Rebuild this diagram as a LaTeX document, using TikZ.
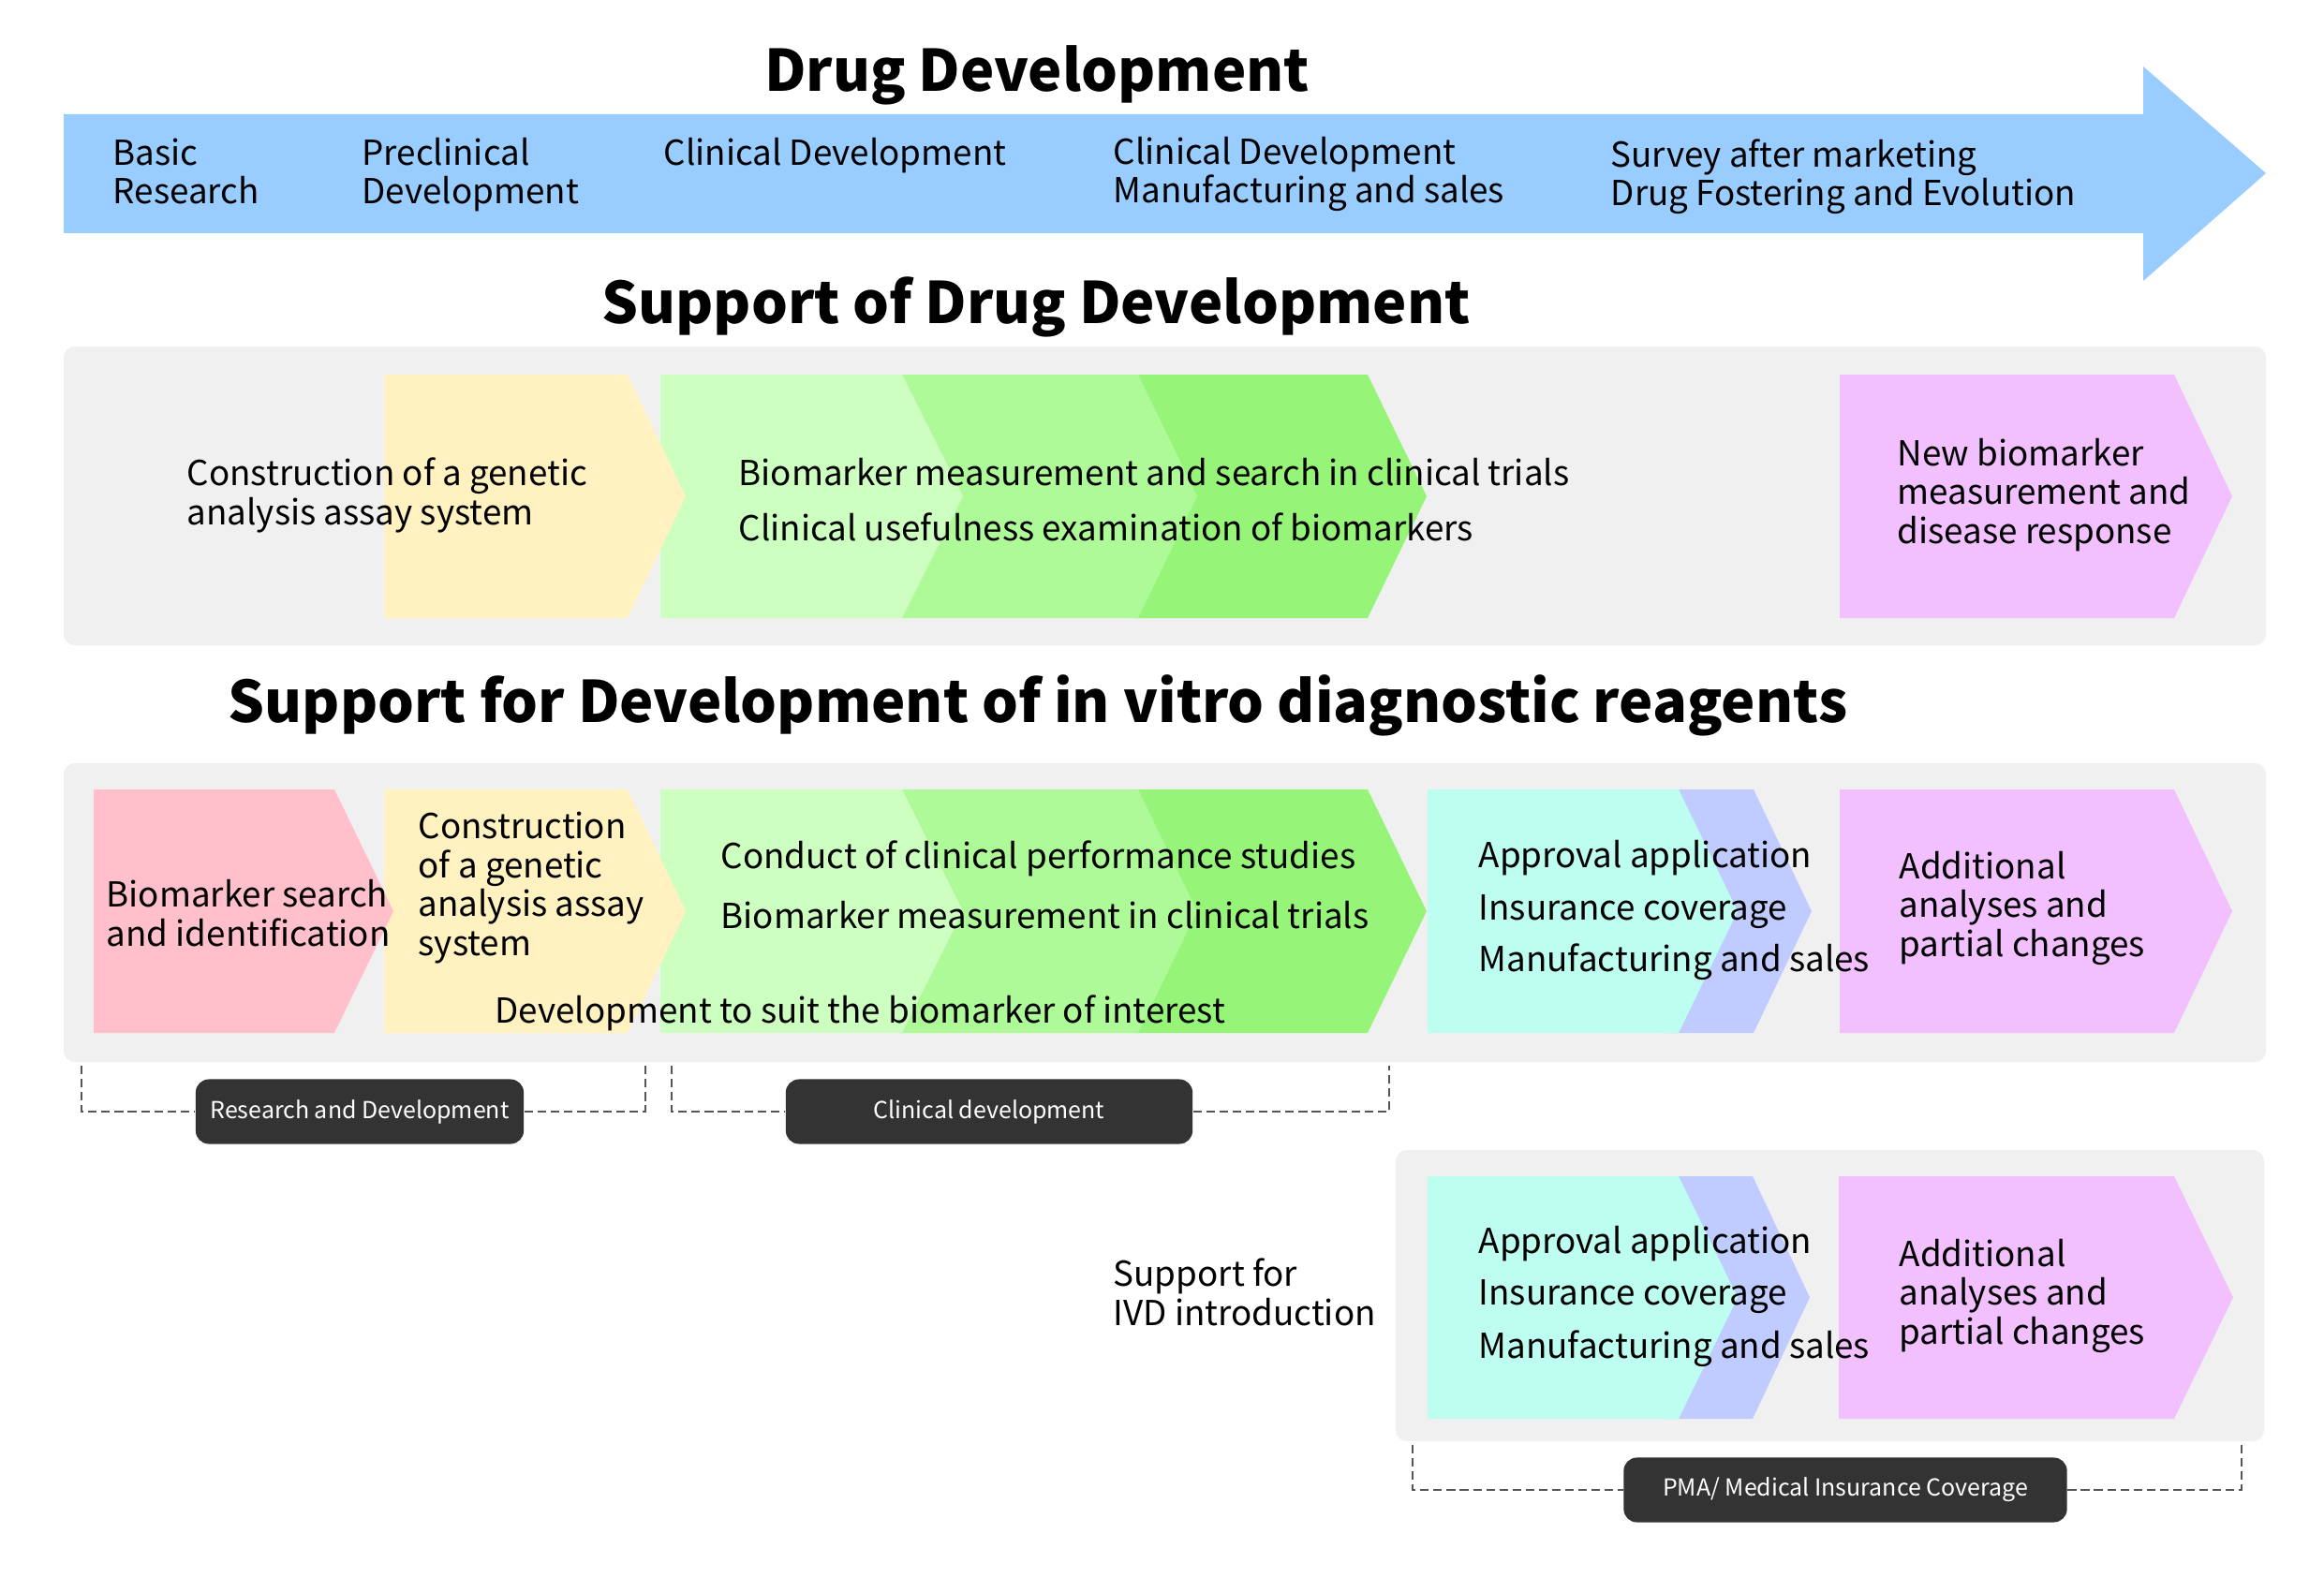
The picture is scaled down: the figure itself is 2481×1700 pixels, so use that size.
\documentclass[tikz,border=0pt]{standalone}
\usepackage{fontspec}
\setmainfont{Noto Sans CJK SC}
\definecolor{barblue}{HTML}{99CCFF}
\definecolor{panelgray}{HTML}{F0F0F0}
\definecolor{cyel}{HTML}{FFF2C0}
\definecolor{cgrA}{HTML}{CCFFC0}
\definecolor{cgrB}{HTML}{AEFA98}
\definecolor{cgrC}{HTML}{96F578}
\definecolor{cvio}{HTML}{F2C0FF}
\definecolor{crose}{HTML}{FFC0CC}
\definecolor{ccyan}{HTML}{BEFEF0}
\definecolor{cperi}{HTML}{C0CCFF}
\definecolor{lbldark}{HTML}{333333}
\definecolor{brkgray}{HTML}{555555}
\newcommand\chevron[6]{\fill[#6] (#1,#4) -- (#2,#4) -- (#3,{(#4+#5)/2}) -- (#2,#5) -- (#1,#5) -- cycle;}
\begin{document}
\begin{tikzpicture}[x=0.01cm,y=-0.01cm,
  txt/.style={font=\fontsize{10.45}{11.8}\selectfont, inner sep=0pt, align=left, anchor=base west},
  ttl/.style={font=\bfseries\fontsize{17.4}{20}\selectfont, inner sep=0pt, anchor=base},
  panel/.style={fill=panelgray, rounded corners=3.4pt},
  lbl/.style={fill=lbldark, text=white, rounded corners=4pt, inner sep=0pt, font=\fontsize{7.1}{9}\selectfont},
  brk/.style={draw=brkgray, line width=0.8pt, dash pattern=on 2.6pt off 1.4pt}]
\useasboundingbox (0,0) rectangle (2481,1700);
\fill[white] (0,0) rectangle (2481,1700);

% Top arrow
\fill[barblue] (68,122) -- (2288,122) -- (2288,71) -- (2419,185) -- (2288,300) -- (2288,249) -- (68,249) -- cycle;
\node[ttl] (t0) at (1107,98) {Drug Development};
% multi-line nodes are anchored at the baseline of their last line
\node[txt] (b1) at (120,218) {Basic\\Research};
\node[txt] (b2) at (386,218) {Preclinical\\Development};
\node[txt] (b3) at (708,176) {Clinical Development};
\node[txt] (b4) at (1188,217) {Clinical Development\\Manufacturing and sales};
\node[txt] (b5) at (1719,220) {Survey after marketing\\Drug Fostering and Evolution};

% Panel 1
\node[ttl] (t1) at (1106,345) {Support of Drug Development};
\fill[panel] (68,370) rectangle (2419,689);
\chevron{1210}{1460}{1523}{400}{660}{cgrC}
\chevron{960}{1215}{1278}{400}{660}{cgrB}
\chevron{705}{963}{1028}{400}{660}{cgrA}
\chevron{410}{670}{732}{400}{660}{cyel}
\chevron{1964}{2321}{2383}{400}{660}{cvio}
\node[txt] (p1a) at (199,560) {Construction of a genetic\\analysis assay system};
\node[txt] (p1b) at (788,518) {Biomarker measurement and search in clinical trials};
\node[txt] (p1c) at (788,577) {Clinical usefulness examination of biomarkers};
\node[txt] (p1d) at (2025,580) {New biomarker\\measurement and\\disease response};

% Panel 2
\node[ttl] (t2) at (1108,771) {Support for Development of in vitro diagnostic reagents};
\fill[panel] (68,815) rectangle (2419,1134);
\chevron{1210}{1460}{1523}{843}{1103}{cgrC}
\chevron{960}{1215}{1278}{843}{1103}{cgrB}
\chevron{705}{963}{1028}{843}{1103}{cgrA}
\chevron{410}{670}{732}{843}{1103}{cyel}
\chevron{100}{357}{420}{843}{1103}{crose}
\chevron{1780}{1872}{1934}{843}{1103}{cperi}
\chevron{1524}{1792}{1855}{843}{1103}{ccyan}
\chevron{1964}{2321}{2383}{843}{1103}{cvio}
\node[txt] (p2a) at (113,1010) {Biomarker search\\and identification};
\node[txt] (p2b) at (446,1020) {Construction\\of a genetic\\analysis assay\\system};
\node[txt] (p2c) at (769,927) {Conduct of clinical performance studies};
\node[txt] (p2d) at (769,991) {Biomarker measurement in clinical trials};
\node[txt] (p2e) at (528,1092) {Development to suit the biomarker of interest};
\node[txt] (p2f) at (1578,926) {Approval application};
\node[txt] (p2g) at (1578,982) {Insurance coverage};
\node[txt] (p2h) at (1578,1037) {Manufacturing and sales};
\node[txt] (p2i) at (2027,1021) {Additional\\analyses and\\partial changes};

% Brackets and labels
\node[lbl, minimum width=3.5cm, minimum height=0.69cm] (lrd) at (384,1187) {Research and Development};
\node[lbl, minimum width=4.34cm, minimum height=0.69cm] (lcd) at (1056,1187) {Clinical development};
\coordinate (rdL) at (87,1138);
\coordinate (rdR) at (689,1138);
\coordinate (cdL) at (717,1138);
\coordinate (cdR) at (1483,1138);
\draw[brk] (rdL) |- (lrd.west);
\draw[brk] (lrd.east) -| (rdR);
\draw[brk] (cdL) |- (lcd.west);
\draw[brk] (lcd.east) -| (cdR);

% Panel 3
\fill[panel] (1490,1228) rectangle (2417,1539);
\chevron{1780}{1871}{1932}{1256}{1515}{cperi}
\chevron{1524}{1792}{1855}{1256}{1515}{ccyan}
\chevron{1963}{2321}{2384}{1256}{1515}{cvio}
\node[txt] (p3s) at (1188,1415) {Support for\\IVD introduction};
\node[txt] (p3a) at (1578,1338) {Approval application};
\node[txt] (p3b) at (1578,1393) {Insurance coverage};
\node[txt] (p3c) at (1578,1450) {Manufacturing and sales};
\node[txt] (p3d) at (2027,1435) {Additional\\analyses and\\partial changes};
\node[lbl, minimum width=4.73cm, minimum height=0.69cm] (lpma) at (1970,1591) {PMA/ Medical Insurance Coverage};
\coordinate (pmL) at (1508,1543);
\coordinate (pmR) at (2393,1543);
\draw[brk] (pmL) |- (lpma.west);
\draw[brk] (lpma.east) -| (pmR);
\end{tikzpicture}
\end{document}
